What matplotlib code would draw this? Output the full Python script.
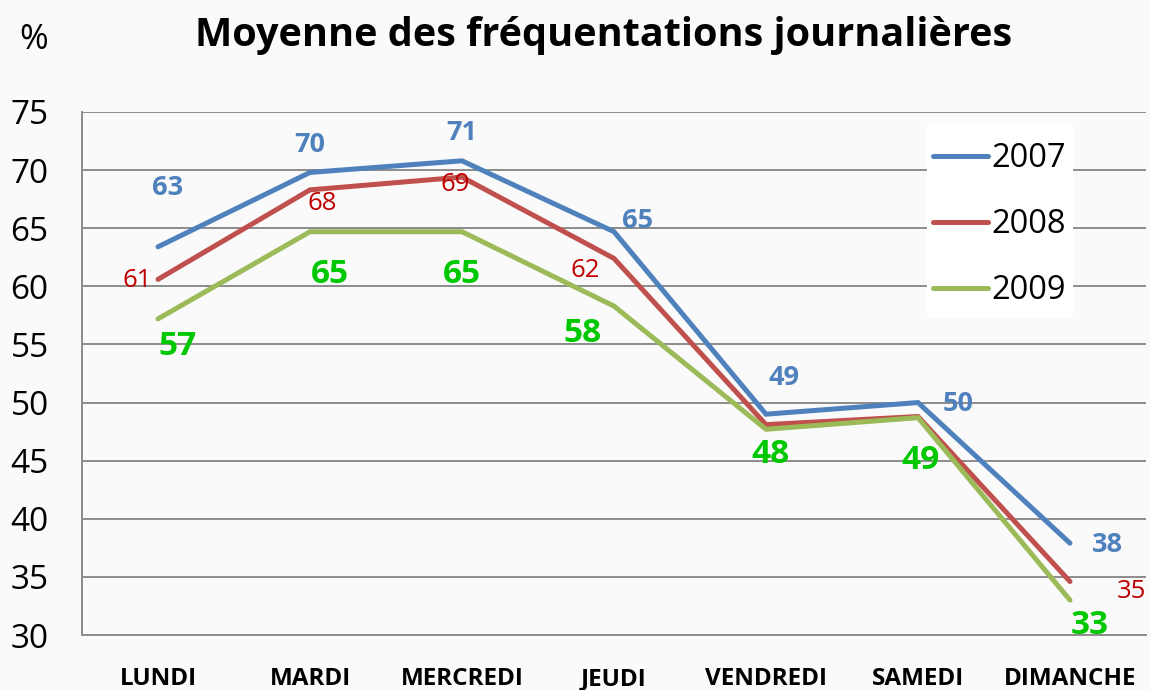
import matplotlib.pyplot as plt
from matplotlib.patches import Rectangle

plt.rcParams['font.family'] = ['Open Sans', 'DejaVu Sans']

# Données
jours = ['LUNDI', 'MARDI', 'MERCREDI', 'JEUDI', 'VENDREDI', 'SAMEDI', 'DIMANCHE']
annees = ['2007', '2008', '2009']
v2007 = [63.4, 69.8, 70.8, 64.7, 49.0, 50.0, 37.9]
v2008 = [60.6, 68.3, 69.4, 62.4, 48.1, 48.8, 34.6]
v2009 = [57.2, 64.7, 64.7, 58.3, 47.7, 48.7, 33.0]
yticks = [30, 35, 40, 45, 50, 55, 60, 65, 70, 75]

series = [v2007, v2008, v2009]
line_colors = ['#4F81BD', '#C0504D', '#9BBB59']
label_colors = ['#4F81BD', '#C00000', '#00C800']
label_sizes = [19.5, 18.5, 24]
label_weights = ['bold', 'normal', 'bold']
# décalages des étiquettes (points), None = étiquette masquée
offsets = [
    [(7, 42), (0, 20), (0, 20), (17, 8), (13, 26), (29, -1), (27, -1)],
    [(-15, -1), (9, -10), (-5, -5), (-21, -9), None, None, (44, -7)],
    [(14, -20), (14, -31), (0, -31), (-23, -20), (3, -18), (2, -31), (14, -18)],
]

fig = plt.figure(figsize=(11.5, 6.9), dpi=100, facecolor='#fafafa')
ax = fig.add_axes([82 / 1150, 55 / 690, 1064 / 1150, 523 / 690])
ax.set_facecolor('#fafafa')

x = range(len(jours))
for i, vals in enumerate(series):
    ax.plot(x, vals, color=line_colors[i], lw=3.6, label=annees[i],
            solid_capstyle='round', solid_joinstyle='miter', zorder=3)
    for j, v in enumerate(vals):
        off = offsets[i][j]
        if off is None:
            continue
        ax.annotate(f'{v:.0f}', (j, v), xytext=off, textcoords='offset points',
                    ha='center', va='center', color=label_colors[i],
                    fontsize=label_sizes[i], fontweight=label_weights[i],
                    annotation_clip=False, zorder=5)

ax.set_xlim(-0.5, 6.5)
ax.set_ylim(30, 75)
ax.set_yticks(yticks)
ax.set_xticks(list(x))
ax.set_xticklabels(jours, fontsize=17.5, fontweight='bold')
ax.tick_params(axis='x', length=0, pad=23)
ax.tick_params(axis='y', length=0, pad=24, labelsize=24)
ax.grid(axis='y', color='#8c8c8c', lw=1.4)
ax.set_axisbelow(True)
for s in ['top', 'right']:
    ax.spines[s].set_visible(False)
for s in ['left', 'bottom']:
    ax.spines[s].set_color('#8c8c8c')
    ax.spines[s].set_linewidth(1.4)

# fond blanc de la légende
ax.add_patch(Rectangle((845 / 1064, 317 / 523), 146 / 1064, 194 / 523,
                       transform=ax.transAxes, facecolor='white',
                       edgecolor='none', zorder=2))
leg = ax.legend(loc='upper left', bbox_to_anchor=(851 / 1064, (635 - 142) / 523),
                borderaxespad=0, fontsize=23.5, frameon=False,
                handlelength=1.7, handletextpad=0.1, labelspacing=1.01,
                borderpad=0)

fig.text(0.525, 0.949, 'Moyenne des fréquentations journalières', ha='center',
         va='center', fontsize=28.5, fontweight='bold')
fig.text(0.029, 0.942, '%', ha='center', va='center', fontsize=25)

fig.savefig('out.png', dpi=100, facecolor=fig.get_facecolor())
